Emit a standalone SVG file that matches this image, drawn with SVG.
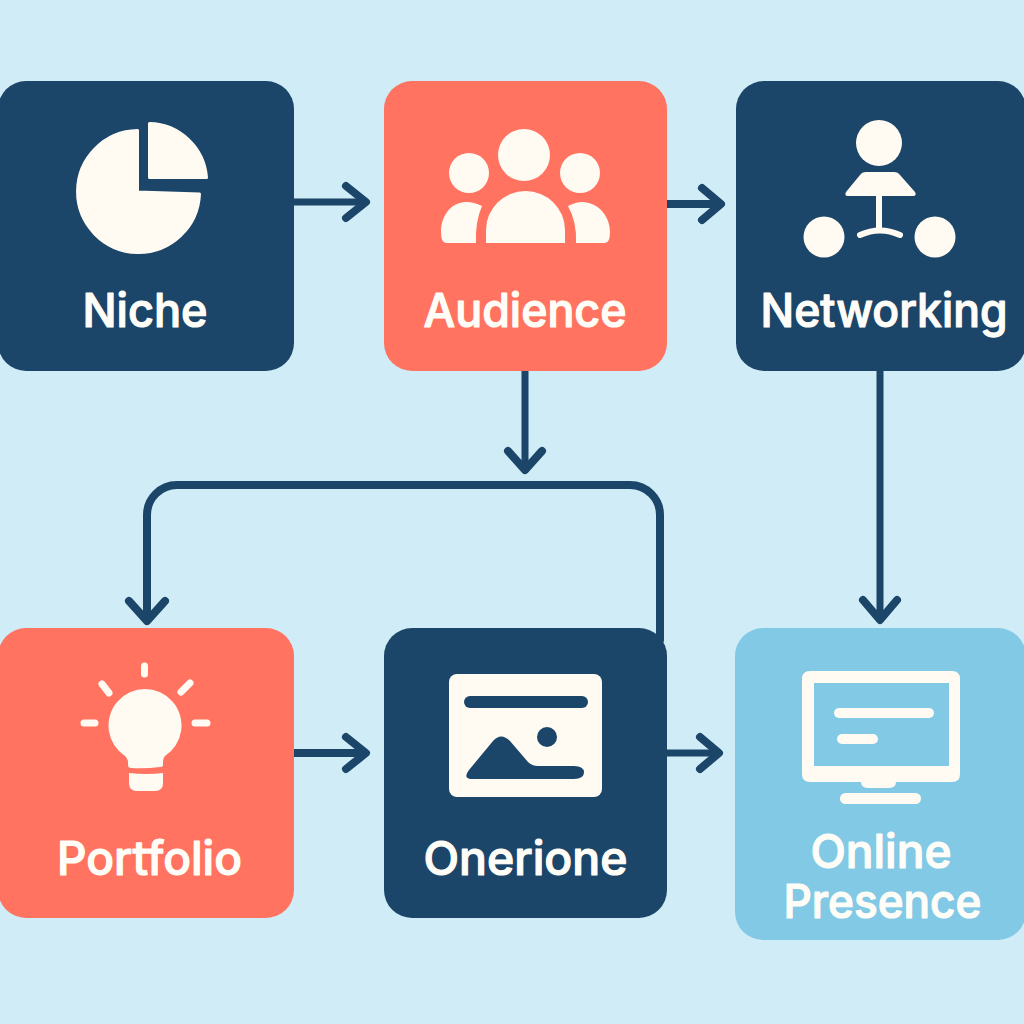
<svg xmlns="http://www.w3.org/2000/svg" width="1024" height="1024" viewBox="0 0 1024 1024">
<style>
.navy{fill:#1b4569}.coral{fill:#ff7360}.sky{fill:#82c9e6}
.ic{fill:#fffbf2}
.rd{stroke:#fffbf2;stroke-width:3;stroke-linejoin:round}
.ray{stroke:#fffbf2;stroke-width:7;stroke-linecap:round;fill:none}
.lbl{font-family:"Inter","Noto Sans",sans-serif;font-size:47px;font-weight:500;fill:#fffdf7;stroke:#fffdf7;stroke-width:1.2;stroke-linejoin:round}
.c{fill:none;stroke:#1b4569;stroke-width:8;stroke-linecap:round;stroke-linejoin:round}
.t{stroke-width:7}
</style>
<rect width="1024" height="1024" fill="#d0edf7"/>
<g id="connectors">
<path class="c t" d="M294 202H365"/>
<path class="c" d="M346 186L366 202L346 218"/>
<path class="c" d="M667 204H720M702 188L721 204L702 220"/>
<path class="c t" d="M525 371V468"/>
<path class="c" d="M508 451L525 470L542 451"/>
<path class="c" d="M660 640V515A30 30 0 0 0 630 485H177A30 30 0 0 0 147 515V620"/>
<path class="c" d="M129 601L147 621L165 601"/>
<path class="c t" d="M880 371V618"/>
<path class="c" d="M863 600L880 620L897 600"/>
<path class="c" d="M294 753H365M346 737L366 753L346 769"/>
<path class="c t" d="M667 753H718"/>
<path class="c" d="M700 737L719 753L700 769"/>
</g>
<g id="niche">
<rect class="navy" x="-2" y="81" width="296" height="290" rx="28"/>
<path class="ic rd" d="M137.500 130.500V192L199.500 194A61 61 0 1 1 137.500 130.500Z"/>
<path class="ic rd" d="M149.500 123.500A58.500 58.500 0 0 1 206.500 177.500H149.500Z"/>
<text class="lbl" x="145" y="327" text-anchor="middle" textLength="125" lengthAdjust="spacingAndGlyphs">Niche</text>
</g>
<g id="audience">
<rect class="coral" x="384" y="81" width="283" height="290" rx="28"/>
<circle class="ic" cx="524" cy="155" r="26"/>
<circle class="ic" cx="469" cy="173" r="20"/>
<circle class="ic" cx="580" cy="173" r="20"/>
<path class="ic" d="M486 243V230A39.500 39 0 0 1 565 230V243Z"/>
<path class="ic" d="M476 243Q475 222 482 206Q474 202 466 202C451 202 441 216 441 232Q441 243 446 243Z"/>
<path class="ic" d="M576 243Q577 222 568 206Q576 202 582 202C598 202 610 216 610 232Q610 243 605 243Z"/>
<text class="lbl" x="525" y="327" text-anchor="middle" textLength="203" lengthAdjust="spacingAndGlyphs">Audience</text>
</g>
<g id="networking">
<rect class="navy" x="736" y="81" width="290" height="290" rx="28"/>
<circle class="ic" cx="879" cy="143" r="23"/>
<path class="ic" d="M866 172H894Q898 172 900 175L915 192Q917 196 913 196H848Q844 196 846 192L860 175Q862 172 866 172Z"/>
<rect class="ic" x="876" y="196" width="6" height="34"/>
<path d="M860 235Q880 226 900 235" fill="none" stroke="#fffbf2" stroke-width="6" stroke-linecap="round"/>
<circle class="ic" cx="824" cy="237" r="20.500"/>
<circle class="ic" cx="935" cy="237" r="20.500"/>
<text class="lbl" x="884" y="327" text-anchor="middle" textLength="247" lengthAdjust="spacingAndGlyphs">Networking</text>
</g>
<g id="portfolio">
<rect class="coral" x="-2" y="628" width="296" height="290" rx="28"/>
<path class="ic" d="M128 765V761Q127 758 125 756A36.500 36.500 0 1 1 165 756Q163 758 163 761V765Q163 767 160 767Q145 769 131 768Q128 768 128 765Z"/>
<path class="ic" d="M129 773Q146 775 163 773V783Q163 791 155 791H137Q129 791 129 783Z"/>
<path class="ray" d="M144.500 666V674M102 684L109 693M190 683L181 692M84 723H95M195 723H207"/>
<text class="lbl" x="149.500" y="875" text-anchor="middle" textLength="185" lengthAdjust="spacingAndGlyphs">Portfolio</text>
</g>
<g id="onerione">
<rect class="navy" x="384" y="628" width="283" height="290" rx="28"/>
<rect class="ic" x="449" y="674" width="153" height="123" rx="8"/>
<rect class="navy" x="464" y="696" width="124" height="12" rx="6"/>
<circle class="navy" cx="547" cy="737" r="10"/>
<path class="navy" d="M473 779Q462 779 469 770L493 741Q501 732 510 741L528 762Q532 766 538 766H574Q584 766 584 772.500Q584 779 574 779Z"/>
<text class="lbl" x="525.500" y="875" text-anchor="middle" textLength="204" lengthAdjust="spacingAndGlyphs">Onerione</text>
</g>
<g id="online-presence">
<rect class="sky" x="735" y="628" width="291" height="312" rx="28"/>
<path class="ic" fill-rule="evenodd" d="M810 671H952Q960 671 960 679V774Q960 782 952 782H896Q896 788 888 788H869Q861 788 861 782H810Q802 782 802 774V679Q802 671 810 671ZM814 683V766H949V683Z"/>
<rect class="ic" x="834" y="708" width="100" height="10" rx="5"/>
<rect class="ic" x="837" y="734" width="41" height="10" rx="5"/>
<rect class="ic" x="840" y="793" width="81" height="11" rx="5.500"/>
<text class="lbl" x="881" y="868" text-anchor="middle" textLength="141" lengthAdjust="spacingAndGlyphs">Online</text>
<text class="lbl" x="882.500" y="918" text-anchor="middle" textLength="198" lengthAdjust="spacingAndGlyphs">Presence</text>
</g>
</svg>
